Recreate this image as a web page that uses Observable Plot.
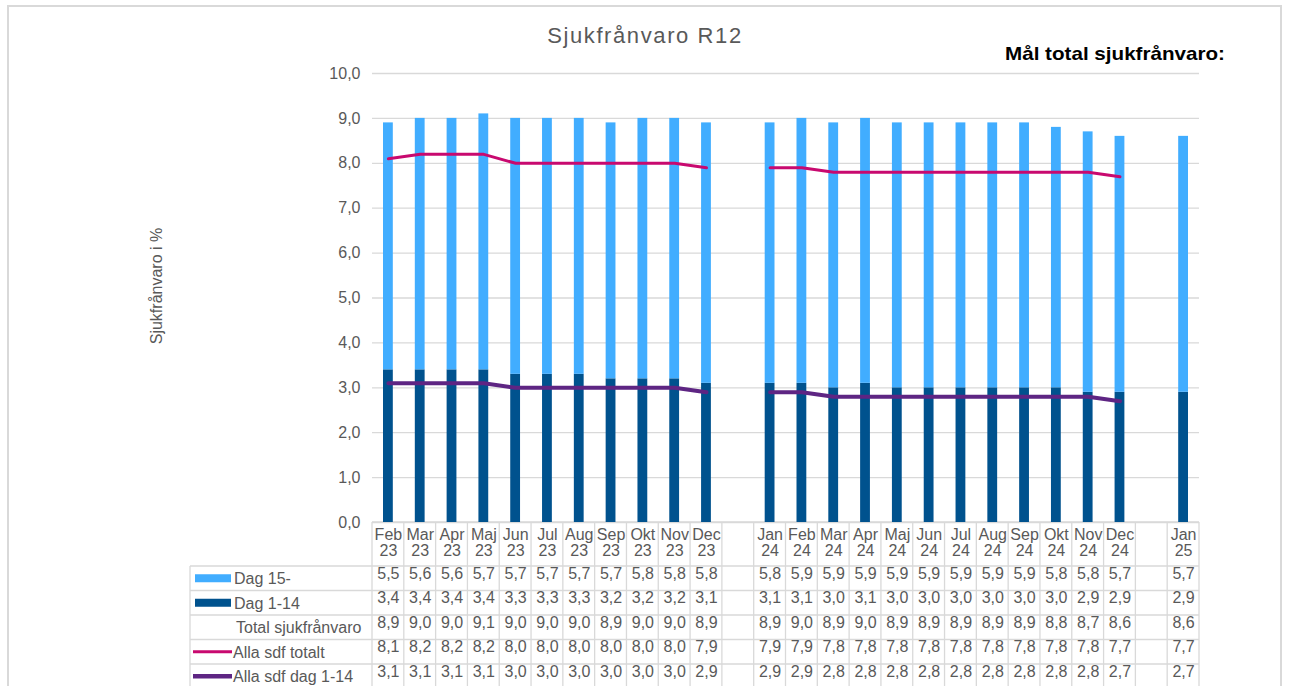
<!DOCTYPE html>
<html><head><meta charset="utf-8">
<script src="https://cdn.jsdelivr.net/npm/d3@7"></script>
<script src="https://cdn.jsdelivr.net/npm/@observablehq/plot@0.6"></script>
<style>body{margin:0;background:#fff;}#chart svg{display:block;}</style>
</head><body><div id="chart"></div>
<script>
// ---- data ----
const months = ["Feb 23","Mar 23","Apr 23","Maj 23","Jun 23","Jul 23","Aug 23","Sep 23","Okt 23","Nov 23","Dec 23","gap1",
  "Jan 24","Feb 24","Mar 24","Apr 24","Maj 24","Jun 24","Jul 24","Aug 24","Sep 24","Okt 24","Nov 24","Dec 24","gap2","Jan 25"];
const dag15 = [5.5,5.6,5.6,5.7,5.7,5.7,5.7,5.7,5.8,5.8,5.8,null,5.8,5.9,5.9,5.9,5.9,5.9,5.9,5.9,5.9,5.8,5.8,5.7,null,5.7];
const dag114 = [3.4,3.4,3.4,3.4,3.3,3.3,3.3,3.2,3.2,3.2,3.1,null,3.1,3.1,3.0,3.1,3.0,3.0,3.0,3.0,3.0,3.0,2.9,2.9,null,2.9];
const total = [8.9,9.0,9.0,9.1,9.0,9.0,9.0,8.9,9.0,9.0,8.9,null,8.9,9.0,8.9,9.0,8.9,8.9,8.9,8.9,8.9,8.8,8.7,8.6,null,8.6];
const allaTotalt = [8.1,8.2,8.2,8.2,8.0,8.0,8.0,8.0,8.0,8.0,7.9,null,7.9,7.9,7.8,7.8,7.8,7.8,7.8,7.8,7.8,7.8,7.8,7.7,null,7.7];
const alla114 = [3.1,3.1,3.1,3.1,3.0,3.0,3.0,3.0,3.0,3.0,2.9,null,2.9,2.9,2.8,2.8,2.8,2.8,2.8,2.8,2.8,2.8,2.8,2.7,null,2.7];
const yTicks = [0,1,2,3,4,5,6,7,8,9,10];
const seriesNames = ["Dag 15-","Dag 1-14","Total sjukfrånvaro","Alla sdf totalt","Alla sdf dag 1-14"];
const titleText = "Sjukfrånvaro R12";
const goalText = "Mål total sjukfrånvaro:";
const yLabel = "Sjukfrånvaro i %";

// ---- style ----
const C_LIGHT = "#41adff", C_DARK = "#00528e", C_MAG = "#c8096f", C_PUR = "#5e2583";
const GRAY = "#595959", LINE = "#d9d9d9";
const FONT = "'Liberation Sans', Arial, sans-serif";

const fmt = v => v == null ? null : v.toFixed(1).replace(".", ",");
const bars = [];
months.forEach((m, i) => {
  if (dag114[i] != null) bars.push({m, series: "Dag 1-14", value: dag114[i]});
  if (dag15[i] != null) bars.push({m, series: "Dag 15-", value: dag15[i]});
});
// isolated points (no neighbour) form no line segment, as in the original
const withBreaks = arr => months.map((m, i) => {
  const v = arr[i];
  const isolated = v != null && (arr[i - 1] == null) && (arr[i + 1] == null);
  return {m, v: isolated ? null : v};
});
const lineTot = withBreaks(allaTotalt);
const line114 = withBreaks(alla114);
const tableRows = [dag15, dag114, total, allaTotalt, alla114];

const pTop = 73, pBottom = 522, pLeft = 372, pRight = 1199;
const rowH = 24.5, tableTop = 566;
const barInset = 11;

const rowMarks = tableRows.map((arr, r) =>
  Plot.text(months, {x: d => d, text: (d, i) => fmt(arr[i]), frameAnchor: "bottom",
    dy: tableTop + rowH * (r + 0.5) - pBottom, fontSize: 16, fill: GRAY}));

const plot = Plot.plot({
  width: 1289, height: 686,
  marginLeft: pLeft, marginRight: 1289 - pRight, marginTop: pTop, marginBottom: 686 - pBottom,
  style: {fontFamily: FONT, color: GRAY, background: "transparent", overflow: "visible"},
  x: {domain: months, padding: 0, round: false, label: null},
  y: {domain: [0, 10], label: null},
  color: {domain: ["Dag 15-", "Dag 1-14"], range: [C_LIGHT, C_DARK]},
  marks: [
    Plot.gridY(yTicks, {stroke: LINE, strokeOpacity: 1, strokeWidth: 1.3}),
    Plot.barY(bars, {x: "m", y: "value", fill: "series", order: ["Dag 1-14", "Dag 15-"], insetLeft: barInset, insetRight: barInset}),
    Plot.lineY(lineTot, {x: "m", y: "v", stroke: C_MAG, strokeWidth: 3}),
    Plot.lineY(line114, {x: "m", y: "v", stroke: C_PUR, strokeWidth: 4}),
    Plot.axisY(yTicks, {tickSize: 0, tickPadding: 12, tickFormat: d => d.toFixed(1).replace(".", ","), fontSize: 16, fill: GRAY, label: null}),
    Plot.axisX({tickSize: 0, tickPadding: 6, tickFormat: k => k.startsWith("gap") ? "" : k.replace(" ", "\n"), fontSize: 16, fill: GRAY, label: null}),
    ...rowMarks
  ]
});
document.getElementById("chart").appendChild(plot);

// ---- decorations using the Plot x scale ----
const svg = d3.select(plot);
const xs = plot.scale("x");
const bw = xs.bandwidth;
const cellL = k => xs.apply(k);
const g = svg.insert("g", ":first-child");
const tableBottom = 700;
g.append("path").attr("d", "M8,700 V6 H1281 V700").attr("fill", "none").attr("stroke", LINE).attr("stroke-width", 2);
g.append("line").attr("x1", pLeft).attr("x2", pRight).attr("y1", pBottom).attr("y2", pBottom).attr("stroke", LINE).attr("stroke-width", 1.5);
months.forEach(k => {
  const x0 = cellL(k);
  g.append("line").attr("x1", x0).attr("x2", x0).attr("y1", pBottom).attr("y2", tableBottom).attr("stroke", LINE).attr("stroke-width", 1.3);
});
const xr = cellL(months[months.length - 1]) + bw;
g.append("line").attr("x1", xr).attr("x2", xr).attr("y1", pBottom).attr("y2", tableBottom).attr("stroke", LINE).attr("stroke-width", 1.3);
g.append("line").attr("x1", 190).attr("x2", 190).attr("y1", tableTop).attr("y2", tableBottom).attr("stroke", LINE).attr("stroke-width", 1.3);
for (let r = 0; r <= 5; r++) {
  const y = tableTop + r * rowH;
  g.append("line").attr("x1", 190).attr("x2", xr).attr("y1", y).attr("y2", y).attr("stroke", LINE).attr("stroke-width", 1.3);
}
const lg = svg.append("g").attr("font-family", FONT).attr("font-size", 16).attr("fill", GRAY).attr("text-anchor", "start");
const rc = r => tableTop + rowH * (r + 0.5);
lg.append("rect").attr("x", 195).attr("y", rc(0) - 4).attr("width", 36).attr("height", 8).attr("fill", C_LIGHT);
lg.append("rect").attr("x", 195).attr("y", rc(1) - 4).attr("width", 36).attr("height", 8).attr("fill", C_DARK);
lg.append("line").attr("x1", 193).attr("x2", 232).attr("y1", rc(3)).attr("y2", rc(3)).attr("stroke", C_MAG).attr("stroke-width", 3);
lg.append("line").attr("x1", 193).attr("x2", 232).attr("y1", rc(4)).attr("y2", rc(4)).attr("stroke", C_PUR).attr("stroke-width", 4.5);
const lx = [234, 234, 236, 233, 233];
seriesNames.forEach((s, r) => {
  lg.append("text").attr("x", lx[r]).attr("y", rc(r)).attr("dy", "0.36em").text(s);
});
svg.append("text").attr("x", 645).attr("y", 43).attr("text-anchor", "middle").attr("font-family", FONT)
  .attr("font-size", 22).attr("letter-spacing", 1.6).attr("fill", GRAY).text(titleText);
svg.append("text").attr("x", 1005).attr("y", 60).attr("text-anchor", "start").attr("font-family", FONT).attr("font-weight", "bold")
  .attr("font-size", 19).attr("fill", "#000").attr("textLength", 220).attr("lengthAdjust", "spacingAndGlyphs").text(goalText);
svg.append("text").attr("transform", `translate(156,286) rotate(-90)`).attr("text-anchor", "middle")
  .attr("font-family", FONT).attr("font-size", 16).attr("fill", GRAY).attr("dy", "0.36em").text(yLabel);
</script>
</body></html>
